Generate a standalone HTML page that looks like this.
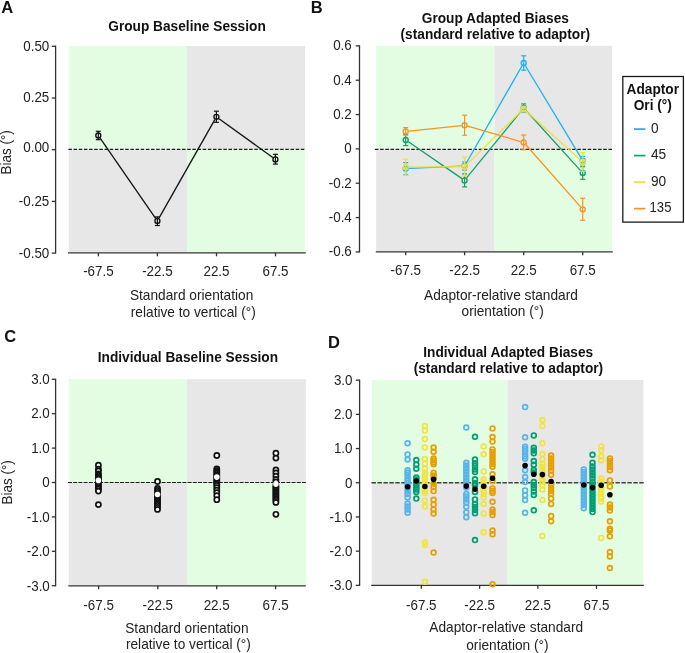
<!DOCTYPE html>
<html><head><meta charset="utf-8"><style>
html,body{margin:0;padding:0;background:#fff;}
svg{display:block;font-family:"Liberation Sans",sans-serif;}
svg{will-change:transform;}
</style></head><body>
<svg width="685" height="653" viewBox="0 0 685 653">
<rect x="0" y="0" width="685" height="653" fill="#fff"/>
<text transform="translate(1.3 12.7) scale(1 1)" text-anchor="start" font-size="16.5" font-weight="bold" fill="#111">A</text>
<text transform="translate(187 31.3) scale(1 1.11)" text-anchor="middle" font-size="13.7" font-weight="bold" fill="#111">Group Baseline Session</text>
<rect x="68.8" y="46.1" width="118.2" height="103.5" fill="#e3fde3"/>
<rect x="68.8" y="149.6" width="118.2" height="102.6" fill="#e7e7e7"/>
<rect x="187" y="46.1" width="118.1" height="103.5" fill="#e7e7e7"/>
<rect x="187" y="149.6" width="118.1" height="102.6" fill="#e3fde3"/>
<line x1="68.4" y1="149.45" x2="305.1" y2="149.45" stroke="#1e1e1e" stroke-width="1.2" stroke-dasharray="3.5 1.665"/>
<line x1="55.6" y1="45.6" x2="55.6" y2="253.6" stroke="#333333" stroke-width="1.3"/>
<line x1="51.8" y1="46.3" x2="55.6" y2="46.3" stroke="#333333" stroke-width="1.3"/>
<text transform="translate(49.3 50.7) scale(1 1.11)" text-anchor="end" font-size="13.4" fill="#222222">0.50</text>
<line x1="51.8" y1="98" x2="55.6" y2="98" stroke="#333333" stroke-width="1.3"/>
<text transform="translate(49.3 102.4) scale(1 1.11)" text-anchor="end" font-size="13.4" fill="#222222">0.25</text>
<line x1="51.8" y1="149.7" x2="55.6" y2="149.7" stroke="#333333" stroke-width="1.3"/>
<text transform="translate(49.3 152.4) scale(1 1.11)" text-anchor="end" font-size="13.4" fill="#222222">0.00</text>
<line x1="51.8" y1="201.4" x2="55.6" y2="201.4" stroke="#333333" stroke-width="1.3"/>
<text transform="translate(49.3 205.8) scale(1 1.11)" text-anchor="end" font-size="13.4" fill="#222222">-0.25</text>
<line x1="51.8" y1="253.1" x2="55.6" y2="253.1" stroke="#333333" stroke-width="1.3"/>
<text transform="translate(49.3 257.5) scale(1 1.11)" text-anchor="end" font-size="13.4" fill="#222222">-0.50</text>
<line x1="68" y1="252.9" x2="305.8" y2="252.9" stroke="#333333" stroke-width="1.3"/>
<line x1="98.4" y1="252.9" x2="98.4" y2="256.3" stroke="#333333" stroke-width="1.3"/>
<text transform="translate(98.4 275.5) scale(1 1.11)" text-anchor="middle" font-size="13.4" fill="#222222">-67.5</text>
<line x1="157.4" y1="252.9" x2="157.4" y2="256.3" stroke="#333333" stroke-width="1.3"/>
<text transform="translate(157.4 275.5) scale(1 1.11)" text-anchor="middle" font-size="13.4" fill="#222222">-22.5</text>
<line x1="216.5" y1="252.9" x2="216.5" y2="256.3" stroke="#333333" stroke-width="1.3"/>
<text transform="translate(216.5 275.5) scale(1 1.11)" text-anchor="middle" font-size="13.4" fill="#222222">22.5</text>
<line x1="275.5" y1="252.9" x2="275.5" y2="256.3" stroke="#333333" stroke-width="1.3"/>
<text transform="translate(275.5 275.5) scale(1 1.11)" text-anchor="middle" font-size="13.4" fill="#222222">67.5</text>
<text transform="translate(191.6 299.7) scale(1 1.11)" text-anchor="middle" font-size="13.7" fill="#222222">Standard orientation</text>
<text transform="translate(193.3 317.1) scale(1 1.11)" text-anchor="middle" font-size="13.7" fill="#222222">relative to vertical (°)</text>
<text text-anchor="middle" font-size="13.7" fill="#222222" transform="translate(11.2 152.4) rotate(-90) scale(0.985 1.11)">Bias (°)</text>
<line x1="100.12" y1="138.13" x2="155.58" y2="218.27" stroke="#111" stroke-width="1.3" stroke-linecap="butt"/>
<line x1="158.98" y1="218.12" x2="214.82" y2="119.58" stroke="#111" stroke-width="1.3" stroke-linecap="butt"/>
<line x1="218.99" y1="118.67" x2="272.81" y2="157.53" stroke="#111" stroke-width="1.3" stroke-linecap="butt"/>
<line x1="98.3" y1="131.3" x2="98.3" y2="139.7" stroke="#111" stroke-width="1.2"/>
<line x1="95.8" y1="131.3" x2="100.8" y2="131.3" stroke="#111" stroke-width="1.2"/>
<line x1="95.8" y1="139.7" x2="100.8" y2="139.7" stroke="#111" stroke-width="1.2"/>
<circle cx="98.3" cy="135.5" r="2.5" fill="none" stroke="#111" stroke-width="1.35"/>
<line x1="157.4" y1="216.9" x2="157.4" y2="225.5" stroke="#111" stroke-width="1.2"/>
<line x1="154.9" y1="216.9" x2="159.9" y2="216.9" stroke="#111" stroke-width="1.2"/>
<line x1="154.9" y1="225.5" x2="159.9" y2="225.5" stroke="#111" stroke-width="1.2"/>
<circle cx="157.4" cy="220.9" r="2.5" fill="none" stroke="#111" stroke-width="1.35"/>
<line x1="216.4" y1="111.2" x2="216.4" y2="122.3" stroke="#111" stroke-width="1.2"/>
<line x1="213.9" y1="111.2" x2="218.9" y2="111.2" stroke="#111" stroke-width="1.2"/>
<line x1="213.9" y1="122.3" x2="218.9" y2="122.3" stroke="#111" stroke-width="1.2"/>
<circle cx="216.4" cy="116.8" r="2.5" fill="none" stroke="#111" stroke-width="1.35"/>
<line x1="275.4" y1="154.3" x2="275.4" y2="164.1" stroke="#111" stroke-width="1.2"/>
<line x1="272.9" y1="154.3" x2="277.9" y2="154.3" stroke="#111" stroke-width="1.2"/>
<line x1="272.9" y1="164.1" x2="277.9" y2="164.1" stroke="#111" stroke-width="1.2"/>
<circle cx="275.4" cy="159.4" r="2.5" fill="none" stroke="#111" stroke-width="1.35"/>
<text transform="translate(310.7 12.7) scale(1 1)" text-anchor="start" font-size="16.5" font-weight="bold" fill="#111">B</text>
<text transform="translate(495.3 23.4) scale(1 1.11)" text-anchor="middle" font-size="13.7" font-weight="bold" fill="#111">Group Adapted Biases</text>
<text transform="translate(495.3 38.7) scale(1 1.11)" text-anchor="middle" font-size="13.7" font-weight="bold" fill="#111">(standard relative to adaptor)</text>
<rect x="376.2" y="45.8" width="118.3" height="103.1" fill="#e3fde3"/>
<rect x="376.2" y="148.9" width="118.3" height="102.3" fill="#e7e7e7"/>
<rect x="494.5" y="45.8" width="117.6" height="103.1" fill="#e7e7e7"/>
<rect x="494.5" y="148.9" width="117.6" height="102.3" fill="#e3fde3"/>
<line x1="374.9" y1="149.4" x2="612.1" y2="149.4" stroke="#1e1e1e" stroke-width="1.2" stroke-dasharray="3.55 1.64"/>
<line x1="359.5" y1="45.3" x2="359.5" y2="252.5" stroke="#333333" stroke-width="1.3"/>
<line x1="355.7" y1="45.88" x2="359.5" y2="45.88" stroke="#333333" stroke-width="1.3"/>
<text transform="translate(351.8 50.28) scale(1 1.11)" text-anchor="end" font-size="13.4" fill="#222222">0.6</text>
<line x1="355.7" y1="80.22" x2="359.5" y2="80.22" stroke="#333333" stroke-width="1.3"/>
<text transform="translate(351.8 84.62) scale(1 1.11)" text-anchor="end" font-size="13.4" fill="#222222">0.4</text>
<line x1="355.7" y1="114.56" x2="359.5" y2="114.56" stroke="#333333" stroke-width="1.3"/>
<text transform="translate(351.8 118.96) scale(1 1.11)" text-anchor="end" font-size="13.4" fill="#222222">0.2</text>
<line x1="355.7" y1="148.9" x2="359.5" y2="148.9" stroke="#333333" stroke-width="1.3"/>
<text transform="translate(351.8 153.3) scale(1 1.11)" text-anchor="end" font-size="13.4" fill="#222222">0</text>
<line x1="355.7" y1="183.24" x2="359.5" y2="183.24" stroke="#333333" stroke-width="1.3"/>
<text transform="translate(351.8 187.64) scale(1 1.11)" text-anchor="end" font-size="13.4" fill="#222222">-0.2</text>
<line x1="355.7" y1="217.58" x2="359.5" y2="217.58" stroke="#333333" stroke-width="1.3"/>
<text transform="translate(351.8 221.98) scale(1 1.11)" text-anchor="end" font-size="13.4" fill="#222222">-0.4</text>
<line x1="355.7" y1="251.92" x2="359.5" y2="251.92" stroke="#333333" stroke-width="1.3"/>
<text transform="translate(351.8 256.32) scale(1 1.11)" text-anchor="end" font-size="13.4" fill="#222222">-0.6</text>
<line x1="375.8" y1="251.9" x2="612.8" y2="251.9" stroke="#333333" stroke-width="1.3"/>
<line x1="405.7" y1="251.9" x2="405.7" y2="255.3" stroke="#333333" stroke-width="1.3"/>
<text transform="translate(405.7 274.8) scale(1 1.11)" text-anchor="middle" font-size="13.4" fill="#222222">-67.5</text>
<line x1="464.6" y1="251.9" x2="464.6" y2="255.3" stroke="#333333" stroke-width="1.3"/>
<text transform="translate(464.6 274.8) scale(1 1.11)" text-anchor="middle" font-size="13.4" fill="#222222">-22.5</text>
<line x1="523.7" y1="251.9" x2="523.7" y2="255.3" stroke="#333333" stroke-width="1.3"/>
<text transform="translate(523.7 274.8) scale(1 1.11)" text-anchor="middle" font-size="13.4" fill="#222222">22.5</text>
<line x1="582.7" y1="251.9" x2="582.7" y2="255.3" stroke="#333333" stroke-width="1.3"/>
<text transform="translate(582.7 274.8) scale(1 1.11)" text-anchor="middle" font-size="13.4" fill="#222222">67.5</text>
<text transform="translate(501 299.8) scale(1 1.11)" text-anchor="middle" font-size="13.7" fill="#222222">Adaptor-relative standard</text>
<text transform="translate(502.7 315.8) scale(1 1.11)" text-anchor="middle" font-size="13.7" fill="#222222">orientation (°)</text>
<line x1="408.9" y1="168.46" x2="461.4" y2="166.14" stroke="#1db1ec" stroke-width="1.3" stroke-linecap="butt"/>
<line x1="466.19" y1="163.22" x2="522.11" y2="65.78" stroke="#1db1ec" stroke-width="1.3" stroke-linecap="butt"/>
<line x1="525.35" y1="65.74" x2="581.05" y2="157.96" stroke="#1db1ec" stroke-width="1.3" stroke-linecap="butt"/>
<line x1="405.7" y1="162.6" x2="405.7" y2="174.6" stroke="#1db1ec" stroke-width="1.2"/>
<line x1="403.2" y1="162.6" x2="408.2" y2="162.6" stroke="#1db1ec" stroke-width="1.2"/>
<line x1="403.2" y1="174.6" x2="408.2" y2="174.6" stroke="#1db1ec" stroke-width="1.2"/>
<circle cx="405.7" cy="168.6" r="2.5" fill="none" stroke="#1db1ec" stroke-width="1.35"/>
<line x1="464.6" y1="162" x2="464.6" y2="170" stroke="#1db1ec" stroke-width="1.2"/>
<line x1="462.1" y1="162" x2="467.1" y2="162" stroke="#1db1ec" stroke-width="1.2"/>
<line x1="462.1" y1="170" x2="467.1" y2="170" stroke="#1db1ec" stroke-width="1.2"/>
<circle cx="464.6" cy="166" r="2.5" fill="none" stroke="#1db1ec" stroke-width="1.35"/>
<line x1="523.7" y1="55.8" x2="523.7" y2="70.2" stroke="#1db1ec" stroke-width="1.2"/>
<line x1="521.2" y1="55.8" x2="526.2" y2="55.8" stroke="#1db1ec" stroke-width="1.2"/>
<line x1="521.2" y1="70.2" x2="526.2" y2="70.2" stroke="#1db1ec" stroke-width="1.2"/>
<circle cx="523.7" cy="63" r="2.5" fill="none" stroke="#1db1ec" stroke-width="1.35"/>
<line x1="582.7" y1="156.5" x2="582.7" y2="164.9" stroke="#1db1ec" stroke-width="1.2"/>
<line x1="580.2" y1="156.5" x2="585.2" y2="156.5" stroke="#1db1ec" stroke-width="1.2"/>
<line x1="580.2" y1="164.9" x2="585.2" y2="164.9" stroke="#1db1ec" stroke-width="1.2"/>
<circle cx="582.7" cy="160.7" r="2.5" fill="none" stroke="#1db1ec" stroke-width="1.35"/>
<line x1="408.34" y1="141.81" x2="461.96" y2="178.59" stroke="#189e6c" stroke-width="1.3" stroke-linecap="butt"/>
<line x1="466.62" y1="177.92" x2="521.68" y2="110.38" stroke="#189e6c" stroke-width="1.3" stroke-linecap="butt"/>
<line x1="525.85" y1="110.27" x2="580.55" y2="170.63" stroke="#189e6c" stroke-width="1.3" stroke-linecap="butt"/>
<line x1="405.7" y1="134.4" x2="405.7" y2="145.6" stroke="#189e6c" stroke-width="1.2"/>
<line x1="403.2" y1="134.4" x2="408.2" y2="134.4" stroke="#189e6c" stroke-width="1.2"/>
<line x1="403.2" y1="145.6" x2="408.2" y2="145.6" stroke="#189e6c" stroke-width="1.2"/>
<circle cx="405.7" cy="140" r="2.5" fill="none" stroke="#189e6c" stroke-width="1.35"/>
<line x1="464.6" y1="173.9" x2="464.6" y2="186.9" stroke="#189e6c" stroke-width="1.2"/>
<line x1="462.1" y1="173.9" x2="467.1" y2="173.9" stroke="#189e6c" stroke-width="1.2"/>
<line x1="462.1" y1="186.9" x2="467.1" y2="186.9" stroke="#189e6c" stroke-width="1.2"/>
<circle cx="464.6" cy="180.4" r="2.5" fill="none" stroke="#189e6c" stroke-width="1.35"/>
<line x1="523.7" y1="103.9" x2="523.7" y2="111.9" stroke="#189e6c" stroke-width="1.2"/>
<line x1="521.2" y1="103.9" x2="526.2" y2="103.9" stroke="#189e6c" stroke-width="1.2"/>
<line x1="521.2" y1="111.9" x2="526.2" y2="111.9" stroke="#189e6c" stroke-width="1.2"/>
<circle cx="523.7" cy="107.9" r="2.5" fill="none" stroke="#189e6c" stroke-width="1.35"/>
<line x1="582.7" y1="166.7" x2="582.7" y2="179.3" stroke="#189e6c" stroke-width="1.2"/>
<line x1="580.2" y1="166.7" x2="585.2" y2="166.7" stroke="#189e6c" stroke-width="1.2"/>
<line x1="580.2" y1="179.3" x2="585.2" y2="179.3" stroke="#189e6c" stroke-width="1.2"/>
<circle cx="582.7" cy="173" r="2.5" fill="none" stroke="#189e6c" stroke-width="1.35"/>
<line x1="408.9" y1="167.17" x2="461.4" y2="166.63" stroke="#ece03a" stroke-width="1.3" stroke-linecap="butt"/>
<line x1="466.89" y1="164.36" x2="521.41" y2="111.04" stroke="#ece03a" stroke-width="1.3" stroke-linecap="butt"/>
<line x1="526.08" y1="110.94" x2="580.32" y2="159.86" stroke="#ece03a" stroke-width="1.3" stroke-linecap="butt"/>
<line x1="405.7" y1="159.2" x2="405.7" y2="175.2" stroke="#ece03a" stroke-width="1.2"/>
<line x1="403.2" y1="159.2" x2="408.2" y2="159.2" stroke="#ece03a" stroke-width="1.2"/>
<line x1="403.2" y1="175.2" x2="408.2" y2="175.2" stroke="#ece03a" stroke-width="1.2"/>
<circle cx="405.7" cy="167.2" r="2.5" fill="none" stroke="#ece03a" stroke-width="1.35"/>
<line x1="464.6" y1="157.1" x2="464.6" y2="176.1" stroke="#ece03a" stroke-width="1.2"/>
<line x1="462.1" y1="157.1" x2="467.1" y2="157.1" stroke="#ece03a" stroke-width="1.2"/>
<line x1="462.1" y1="176.1" x2="467.1" y2="176.1" stroke="#ece03a" stroke-width="1.2"/>
<circle cx="464.6" cy="166.6" r="2.5" fill="none" stroke="#ece03a" stroke-width="1.35"/>
<line x1="523.7" y1="106.3" x2="523.7" y2="111.3" stroke="#ece03a" stroke-width="1.2"/>
<line x1="521.2" y1="106.3" x2="526.2" y2="106.3" stroke="#ece03a" stroke-width="1.2"/>
<line x1="521.2" y1="111.3" x2="526.2" y2="111.3" stroke="#ece03a" stroke-width="1.2"/>
<circle cx="523.7" cy="108.8" r="2.5" fill="none" stroke="#ece03a" stroke-width="1.35"/>
<line x1="582.7" y1="152.7" x2="582.7" y2="171.3" stroke="#ece03a" stroke-width="1.2"/>
<line x1="580.2" y1="152.7" x2="585.2" y2="152.7" stroke="#ece03a" stroke-width="1.2"/>
<line x1="580.2" y1="171.3" x2="585.2" y2="171.3" stroke="#ece03a" stroke-width="1.2"/>
<circle cx="582.7" cy="162" r="2.5" fill="none" stroke="#ece03a" stroke-width="1.35"/>
<line x1="408.88" y1="131.07" x2="461.42" y2="125.53" stroke="#f7941d" stroke-width="1.3" stroke-linecap="butt"/>
<line x1="467.67" y1="126.09" x2="520.63" y2="141.51" stroke="#f7941d" stroke-width="1.3" stroke-linecap="butt"/>
<line x1="525.82" y1="144.8" x2="580.58" y2="206.9" stroke="#f7941d" stroke-width="1.3" stroke-linecap="butt"/>
<line x1="405.7" y1="127.6" x2="405.7" y2="135.2" stroke="#f7941d" stroke-width="1.2"/>
<line x1="403.2" y1="127.6" x2="408.2" y2="127.6" stroke="#f7941d" stroke-width="1.2"/>
<line x1="403.2" y1="135.2" x2="408.2" y2="135.2" stroke="#f7941d" stroke-width="1.2"/>
<circle cx="405.7" cy="131.4" r="2.5" fill="none" stroke="#f7941d" stroke-width="1.35"/>
<line x1="464.6" y1="115.2" x2="464.6" y2="135.2" stroke="#f7941d" stroke-width="1.2"/>
<line x1="462.1" y1="115.2" x2="467.1" y2="115.2" stroke="#f7941d" stroke-width="1.2"/>
<line x1="462.1" y1="135.2" x2="467.1" y2="135.2" stroke="#f7941d" stroke-width="1.2"/>
<circle cx="464.6" cy="125.2" r="2.5" fill="none" stroke="#f7941d" stroke-width="1.35"/>
<line x1="523.7" y1="135" x2="523.7" y2="149.8" stroke="#f7941d" stroke-width="1.2"/>
<line x1="521.2" y1="135" x2="526.2" y2="135" stroke="#f7941d" stroke-width="1.2"/>
<line x1="521.2" y1="149.8" x2="526.2" y2="149.8" stroke="#f7941d" stroke-width="1.2"/>
<circle cx="523.7" cy="142.4" r="2.5" fill="none" stroke="#f7941d" stroke-width="1.35"/>
<line x1="582.7" y1="198.3" x2="582.7" y2="220.3" stroke="#f7941d" stroke-width="1.2"/>
<line x1="580.2" y1="198.3" x2="585.2" y2="198.3" stroke="#f7941d" stroke-width="1.2"/>
<line x1="580.2" y1="220.3" x2="585.2" y2="220.3" stroke="#f7941d" stroke-width="1.2"/>
<circle cx="582.7" cy="209.3" r="2.5" fill="none" stroke="#f7941d" stroke-width="1.35"/>
<rect x="622.8" y="76.5" width="60.6" height="145.6" fill="#fff" stroke="#1a1a1a" stroke-width="1.3"/>
<text transform="translate(652.8 93.5) scale(1 1.11)" text-anchor="middle" font-size="13.7" font-weight="bold" fill="#111">Adaptor</text>
<text transform="translate(652.8 109.5) scale(1 1.11)" text-anchor="middle" font-size="13.7" font-weight="bold" fill="#111">Ori (°)</text>
<line x1="634" y1="129.1" x2="645.4" y2="129.1" stroke="#1db1ec" stroke-width="1.7"/>
<text transform="translate(650.9 132.7) scale(1 1.11)" text-anchor="start" font-size="13.7" fill="#222222">0</text>
<line x1="634" y1="155.6" x2="645.4" y2="155.6" stroke="#189e6c" stroke-width="1.7"/>
<text transform="translate(650.9 159.2) scale(1 1.11)" text-anchor="start" font-size="13.7" fill="#222222">45</text>
<line x1="634" y1="182.1" x2="645.4" y2="182.1" stroke="#ece03a" stroke-width="1.7"/>
<text transform="translate(650.9 185.7) scale(1 1.11)" text-anchor="start" font-size="13.7" fill="#222222">90</text>
<line x1="634" y1="208.6" x2="645.4" y2="208.6" stroke="#f7941d" stroke-width="1.7"/>
<text transform="translate(649.6 212.2) scale(0.955 1.11)" text-anchor="start" font-size="13.7" fill="#222222">135</text>
<text transform="translate(4.2 342.2) scale(1 1)" text-anchor="start" font-size="16.5" font-weight="bold" fill="#111">C</text>
<text transform="translate(187.9 361.5) scale(1 1.11)" text-anchor="middle" font-size="13.7" font-weight="bold" fill="#111">Individual Baseline Session</text>
<rect x="68.8" y="379.2" width="118.2" height="103.3" fill="#e3fde3"/>
<rect x="68.8" y="482.5" width="118.2" height="102.5" fill="#e7e7e7"/>
<rect x="187" y="379.2" width="118.8" height="103.3" fill="#e7e7e7"/>
<rect x="187" y="482.5" width="118.8" height="102.5" fill="#e3fde3"/>
<line x1="68" y1="482.5" x2="305.8" y2="482.5" stroke="#1e1e1e" stroke-width="1.2" stroke-dasharray="4.0 1.2"/>
<line x1="55.6" y1="378.7" x2="55.6" y2="586.3" stroke="#333333" stroke-width="1.3"/>
<line x1="51.8" y1="379.3" x2="55.6" y2="379.3" stroke="#333333" stroke-width="1.3"/>
<text transform="translate(49.8 383.7) scale(1 1.11)" text-anchor="end" font-size="13.4" fill="#222222">3.0</text>
<line x1="51.8" y1="413.7" x2="55.6" y2="413.7" stroke="#333333" stroke-width="1.3"/>
<text transform="translate(49.8 418.1) scale(1 1.11)" text-anchor="end" font-size="13.4" fill="#222222">2.0</text>
<line x1="51.8" y1="448.1" x2="55.6" y2="448.1" stroke="#333333" stroke-width="1.3"/>
<text transform="translate(49.8 452.5) scale(1 1.11)" text-anchor="end" font-size="13.4" fill="#222222">1.0</text>
<line x1="51.8" y1="482.5" x2="55.6" y2="482.5" stroke="#333333" stroke-width="1.3"/>
<text transform="translate(49.8 486.9) scale(1 1.11)" text-anchor="end" font-size="13.4" fill="#222222">0</text>
<line x1="51.8" y1="516.9" x2="55.6" y2="516.9" stroke="#333333" stroke-width="1.3"/>
<text transform="translate(49.8 522) scale(1 1.11)" text-anchor="end" font-size="13.4" fill="#222222">-1.0</text>
<line x1="51.8" y1="551.3" x2="55.6" y2="551.3" stroke="#333333" stroke-width="1.3"/>
<text transform="translate(49.8 556.4) scale(1 1.11)" text-anchor="end" font-size="13.4" fill="#222222">-2.0</text>
<line x1="51.8" y1="585.7" x2="55.6" y2="585.7" stroke="#333333" stroke-width="1.3"/>
<text transform="translate(49.8 591) scale(1 1.11)" text-anchor="end" font-size="13.4" fill="#222222">-3.0</text>
<line x1="68.3" y1="585.8" x2="305.8" y2="585.8" stroke="#333333" stroke-width="1.3"/>
<line x1="98.6" y1="585.8" x2="98.6" y2="589.2" stroke="#333333" stroke-width="1.3"/>
<text transform="translate(98.6 610.2) scale(1 1.11)" text-anchor="middle" font-size="13.4" fill="#222222">-67.5</text>
<line x1="157.8" y1="585.8" x2="157.8" y2="589.2" stroke="#333333" stroke-width="1.3"/>
<text transform="translate(157.8 610.2) scale(1 1.11)" text-anchor="middle" font-size="13.4" fill="#222222">-22.5</text>
<line x1="216.7" y1="585.8" x2="216.7" y2="589.2" stroke="#333333" stroke-width="1.3"/>
<text transform="translate(216.7 610.2) scale(1 1.11)" text-anchor="middle" font-size="13.4" fill="#222222">22.5</text>
<line x1="275.6" y1="585.8" x2="275.6" y2="589.2" stroke="#333333" stroke-width="1.3"/>
<text transform="translate(275.6 610.2) scale(1 1.11)" text-anchor="middle" font-size="13.4" fill="#222222">67.5</text>
<text transform="translate(186.9 633.1) scale(1 1.11)" text-anchor="middle" font-size="13.7" fill="#222222">Standard orientation</text>
<text transform="translate(188.4 649) scale(1 1.11)" text-anchor="middle" font-size="13.7" fill="#222222">relative to vertical (°)</text>
<text text-anchor="middle" font-size="13.7" fill="#222222" transform="translate(11.6 482.4) rotate(-90) scale(0.985 1.11)">Bias (°)</text>
<circle cx="98.4" cy="465.2" r="2.55" fill="#fff" stroke="#111" stroke-width="1.7"/>
<circle cx="98.4" cy="469.2" r="2.55" fill="#fff" stroke="#111" stroke-width="1.7"/>
<circle cx="98.4" cy="471" r="2.55" fill="#fff" stroke="#111" stroke-width="1.7"/>
<circle cx="98.4" cy="474" r="2.55" fill="#fff" stroke="#111" stroke-width="1.7"/>
<circle cx="98.4" cy="475.5" r="2.55" fill="#fff" stroke="#111" stroke-width="1.7"/>
<circle cx="98.4" cy="477" r="2.55" fill="#fff" stroke="#111" stroke-width="1.7"/>
<circle cx="98.4" cy="478.5" r="2.55" fill="#fff" stroke="#111" stroke-width="1.7"/>
<circle cx="98.4" cy="480" r="2.55" fill="#fff" stroke="#111" stroke-width="1.7"/>
<circle cx="98.4" cy="481.5" r="2.55" fill="#fff" stroke="#111" stroke-width="1.7"/>
<circle cx="98.4" cy="483" r="2.55" fill="#fff" stroke="#111" stroke-width="1.7"/>
<circle cx="98.4" cy="484.5" r="2.55" fill="#fff" stroke="#111" stroke-width="1.7"/>
<circle cx="98.4" cy="486.2" r="2.55" fill="#fff" stroke="#111" stroke-width="1.7"/>
<circle cx="98.4" cy="487.7" r="2.55" fill="#fff" stroke="#111" stroke-width="1.7"/>
<circle cx="98.4" cy="489.2" r="2.55" fill="#fff" stroke="#111" stroke-width="1.7"/>
<circle cx="98.4" cy="491.1" r="2.55" fill="#fff" stroke="#111" stroke-width="1.7"/>
<circle cx="98.4" cy="504.6" r="2.55" fill="#fff" stroke="#111" stroke-width="1.7"/>
<circle cx="157.5" cy="481.5" r="2.55" fill="#fff" stroke="#111" stroke-width="1.7"/>
<circle cx="157.5" cy="488.5" r="2.55" fill="#fff" stroke="#111" stroke-width="1.7"/>
<circle cx="157.5" cy="490.5" r="2.55" fill="#fff" stroke="#111" stroke-width="1.7"/>
<circle cx="157.5" cy="492.5" r="2.55" fill="#fff" stroke="#111" stroke-width="1.7"/>
<circle cx="157.5" cy="494.5" r="2.55" fill="#fff" stroke="#111" stroke-width="1.7"/>
<circle cx="157.5" cy="496.5" r="2.55" fill="#fff" stroke="#111" stroke-width="1.7"/>
<circle cx="157.5" cy="498" r="2.55" fill="#fff" stroke="#111" stroke-width="1.7"/>
<circle cx="157.5" cy="499.5" r="2.55" fill="#fff" stroke="#111" stroke-width="1.7"/>
<circle cx="157.5" cy="501" r="2.55" fill="#fff" stroke="#111" stroke-width="1.7"/>
<circle cx="157.5" cy="502.5" r="2.55" fill="#fff" stroke="#111" stroke-width="1.7"/>
<circle cx="157.5" cy="504" r="2.55" fill="#fff" stroke="#111" stroke-width="1.7"/>
<circle cx="157.5" cy="505.5" r="2.55" fill="#fff" stroke="#111" stroke-width="1.7"/>
<circle cx="157.5" cy="507.5" r="2.55" fill="#fff" stroke="#111" stroke-width="1.7"/>
<circle cx="157.5" cy="509.4" r="2.55" fill="#fff" stroke="#111" stroke-width="1.7"/>
<circle cx="216.8" cy="455.5" r="2.55" fill="#fff" stroke="#111" stroke-width="1.7"/>
<circle cx="216.8" cy="468.8" r="2.55" fill="#fff" stroke="#111" stroke-width="1.7"/>
<circle cx="216.8" cy="470.5" r="2.55" fill="#fff" stroke="#111" stroke-width="1.7"/>
<circle cx="216.8" cy="472" r="2.55" fill="#fff" stroke="#111" stroke-width="1.7"/>
<circle cx="216.8" cy="473.5" r="2.55" fill="#fff" stroke="#111" stroke-width="1.7"/>
<circle cx="216.8" cy="475" r="2.55" fill="#fff" stroke="#111" stroke-width="1.7"/>
<circle cx="216.8" cy="476.5" r="2.55" fill="#fff" stroke="#111" stroke-width="1.7"/>
<circle cx="216.8" cy="478" r="2.55" fill="#fff" stroke="#111" stroke-width="1.7"/>
<circle cx="216.8" cy="479.5" r="2.55" fill="#fff" stroke="#111" stroke-width="1.7"/>
<circle cx="216.8" cy="481" r="2.55" fill="#fff" stroke="#111" stroke-width="1.7"/>
<circle cx="216.8" cy="482.5" r="2.55" fill="#fff" stroke="#111" stroke-width="1.7"/>
<circle cx="216.8" cy="484" r="2.55" fill="#fff" stroke="#111" stroke-width="1.7"/>
<circle cx="216.8" cy="485.5" r="2.55" fill="#fff" stroke="#111" stroke-width="1.7"/>
<circle cx="216.8" cy="487.7" r="2.55" fill="#fff" stroke="#111" stroke-width="1.7"/>
<circle cx="216.8" cy="490.2" r="2.55" fill="#fff" stroke="#111" stroke-width="1.7"/>
<circle cx="216.8" cy="492.6" r="2.55" fill="#fff" stroke="#111" stroke-width="1.7"/>
<circle cx="216.8" cy="495.7" r="2.55" fill="#fff" stroke="#111" stroke-width="1.7"/>
<circle cx="216.8" cy="499.7" r="2.55" fill="#fff" stroke="#111" stroke-width="1.7"/>
<circle cx="275.9" cy="453.2" r="2.55" fill="#fff" stroke="#111" stroke-width="1.7"/>
<circle cx="275.9" cy="458.1" r="2.55" fill="#fff" stroke="#111" stroke-width="1.7"/>
<circle cx="275.9" cy="470" r="2.55" fill="#fff" stroke="#111" stroke-width="1.7"/>
<circle cx="275.9" cy="473" r="2.55" fill="#fff" stroke="#111" stroke-width="1.7"/>
<circle cx="275.9" cy="476.1" r="2.55" fill="#fff" stroke="#111" stroke-width="1.7"/>
<circle cx="275.9" cy="479.4" r="2.55" fill="#fff" stroke="#111" stroke-width="1.7"/>
<circle cx="275.9" cy="482" r="2.55" fill="#fff" stroke="#111" stroke-width="1.7"/>
<circle cx="275.9" cy="485.5" r="2.55" fill="#fff" stroke="#111" stroke-width="1.7"/>
<circle cx="275.9" cy="487" r="2.55" fill="#fff" stroke="#111" stroke-width="1.7"/>
<circle cx="275.9" cy="488.5" r="2.55" fill="#fff" stroke="#111" stroke-width="1.7"/>
<circle cx="275.9" cy="490" r="2.55" fill="#fff" stroke="#111" stroke-width="1.7"/>
<circle cx="275.9" cy="491.5" r="2.55" fill="#fff" stroke="#111" stroke-width="1.7"/>
<circle cx="275.9" cy="493" r="2.55" fill="#fff" stroke="#111" stroke-width="1.7"/>
<circle cx="275.9" cy="494.5" r="2.55" fill="#fff" stroke="#111" stroke-width="1.7"/>
<circle cx="275.9" cy="496" r="2.55" fill="#fff" stroke="#111" stroke-width="1.7"/>
<circle cx="275.9" cy="497.5" r="2.55" fill="#fff" stroke="#111" stroke-width="1.7"/>
<circle cx="275.9" cy="499" r="2.55" fill="#fff" stroke="#111" stroke-width="1.7"/>
<circle cx="275.9" cy="500.5" r="2.55" fill="#fff" stroke="#111" stroke-width="1.7"/>
<circle cx="275.9" cy="502.4" r="2.55" fill="#fff" stroke="#111" stroke-width="1.7"/>
<circle cx="275.9" cy="514.3" r="2.55" fill="#fff" stroke="#111" stroke-width="1.7"/>
<circle cx="98.4" cy="480.4" r="2.8" fill="#fff"/>
<circle cx="157.5" cy="494.5" r="2.8" fill="#fff"/>
<circle cx="216.8" cy="477.1" r="2.8" fill="#fff"/>
<circle cx="275.9" cy="484.1" r="2.8" fill="#fff"/>
<text transform="translate(328.1 347.9) scale(1 1)" text-anchor="start" font-size="16.5" font-weight="bold" fill="#111">D</text>
<text transform="translate(508.2 357.1) scale(1 1.11)" text-anchor="middle" font-size="13.7" font-weight="bold" fill="#111">Individual Adapted Biases</text>
<text transform="translate(508.4 373) scale(1 1.11)" text-anchor="middle" font-size="13.7" font-weight="bold" fill="#111">(standard relative to adaptor)</text>
<rect x="371.8" y="379.9" width="135.7" height="102.7" fill="#e3fde3"/>
<rect x="371.8" y="482.6" width="135.7" height="102.2" fill="#e7e7e7"/>
<rect x="507.5" y="379.9" width="135.9" height="102.7" fill="#e7e7e7"/>
<rect x="507.5" y="482.6" width="135.9" height="102.2" fill="#e3fde3"/>
<line x1="371.5" y1="482.8" x2="643.7" y2="482.8" stroke="#3c443c" stroke-width="1.45" stroke-dasharray="4.45 1.5"/>
<line x1="359.6" y1="379.5" x2="359.6" y2="586" stroke="#333333" stroke-width="1.3"/>
<line x1="355.8" y1="380.15" x2="359.6" y2="380.15" stroke="#333333" stroke-width="1.3"/>
<text transform="translate(352.5 385.05) scale(1 1.11)" text-anchor="end" font-size="13.4" fill="#222222">3.0</text>
<line x1="355.8" y1="414.35" x2="359.6" y2="414.35" stroke="#333333" stroke-width="1.3"/>
<text transform="translate(352.5 419.25) scale(1 1.11)" text-anchor="end" font-size="13.4" fill="#222222">2.0</text>
<line x1="355.8" y1="448.55" x2="359.6" y2="448.55" stroke="#333333" stroke-width="1.3"/>
<text transform="translate(352.5 453.45) scale(1 1.11)" text-anchor="end" font-size="13.4" fill="#222222">1.0</text>
<line x1="355.8" y1="482.75" x2="359.6" y2="482.75" stroke="#333333" stroke-width="1.3"/>
<text transform="translate(352.5 487.65) scale(1 1.11)" text-anchor="end" font-size="13.4" fill="#222222">0</text>
<line x1="355.8" y1="516.95" x2="359.6" y2="516.95" stroke="#333333" stroke-width="1.3"/>
<text transform="translate(352.5 521.85) scale(1 1.11)" text-anchor="end" font-size="13.4" fill="#222222">-1.0</text>
<line x1="355.8" y1="551.15" x2="359.6" y2="551.15" stroke="#333333" stroke-width="1.3"/>
<text transform="translate(352.5 556.05) scale(1 1.11)" text-anchor="end" font-size="13.4" fill="#222222">-2.0</text>
<line x1="355.8" y1="585.35" x2="359.6" y2="585.35" stroke="#333333" stroke-width="1.3"/>
<text transform="translate(352.5 590.25) scale(1 1.11)" text-anchor="end" font-size="13.4" fill="#222222">-3.0</text>
<line x1="371.2" y1="585.4" x2="643.8" y2="585.4" stroke="#333333" stroke-width="1.3"/>
<line x1="421.3" y1="585.4" x2="421.3" y2="588.8" stroke="#333333" stroke-width="1.3"/>
<text transform="translate(421.3 609.8) scale(1 1.11)" text-anchor="middle" font-size="13.4" fill="#222222">-67.5</text>
<line x1="479.6" y1="585.4" x2="479.6" y2="588.8" stroke="#333333" stroke-width="1.3"/>
<text transform="translate(479.6 609.8) scale(1 1.11)" text-anchor="middle" font-size="13.4" fill="#222222">-22.5</text>
<line x1="537.8" y1="585.4" x2="537.8" y2="588.8" stroke="#333333" stroke-width="1.3"/>
<text transform="translate(537.8 609.8) scale(1 1.11)" text-anchor="middle" font-size="13.4" fill="#222222">22.5</text>
<line x1="596.5" y1="585.4" x2="596.5" y2="588.8" stroke="#333333" stroke-width="1.3"/>
<text transform="translate(596.5 609.8) scale(1 1.11)" text-anchor="middle" font-size="13.4" fill="#222222">67.5</text>
<text transform="translate(506.2 632.4) scale(1 1.11)" text-anchor="middle" font-size="13.7" fill="#222222">Adaptor-relative standard</text>
<text transform="translate(507.4 649.5) scale(1 1.11)" text-anchor="middle" font-size="13.7" fill="#222222">orientation (°)</text>
<circle cx="407.6" cy="443.2" r="2.4" fill="none" stroke="#56b4e9" stroke-width="1.7"/>
<circle cx="407.6" cy="454.4" r="2.4" fill="none" stroke="#56b4e9" stroke-width="1.7"/>
<circle cx="407.6" cy="459.5" r="2.4" fill="none" stroke="#56b4e9" stroke-width="1.7"/>
<circle cx="407.6" cy="470.3" r="2.4" fill="none" stroke="#56b4e9" stroke-width="1.7"/>
<circle cx="407.6" cy="472.5" r="2.4" fill="none" stroke="#56b4e9" stroke-width="1.7"/>
<circle cx="407.6" cy="475" r="2.4" fill="none" stroke="#56b4e9" stroke-width="1.7"/>
<circle cx="407.6" cy="478" r="2.4" fill="none" stroke="#56b4e9" stroke-width="1.7"/>
<circle cx="407.6" cy="480.5" r="2.4" fill="none" stroke="#56b4e9" stroke-width="1.7"/>
<circle cx="407.6" cy="483" r="2.4" fill="none" stroke="#56b4e9" stroke-width="1.7"/>
<circle cx="407.6" cy="485.5" r="2.4" fill="none" stroke="#56b4e9" stroke-width="1.7"/>
<circle cx="407.6" cy="488" r="2.4" fill="none" stroke="#56b4e9" stroke-width="1.7"/>
<circle cx="407.6" cy="491" r="2.4" fill="none" stroke="#56b4e9" stroke-width="1.7"/>
<circle cx="407.6" cy="494" r="2.4" fill="none" stroke="#56b4e9" stroke-width="1.7"/>
<circle cx="407.6" cy="497.5" r="2.4" fill="none" stroke="#56b4e9" stroke-width="1.7"/>
<circle cx="407.6" cy="503.5" r="2.4" fill="none" stroke="#56b4e9" stroke-width="1.7"/>
<circle cx="407.6" cy="506.5" r="2.4" fill="none" stroke="#56b4e9" stroke-width="1.7"/>
<circle cx="407.6" cy="509.5" r="2.4" fill="none" stroke="#56b4e9" stroke-width="1.7"/>
<circle cx="407.6" cy="512.7" r="2.4" fill="none" stroke="#56b4e9" stroke-width="1.7"/>
<circle cx="416.3" cy="460" r="2.4" fill="none" stroke="#009e73" stroke-width="1.7"/>
<circle cx="416.3" cy="464.5" r="2.4" fill="none" stroke="#009e73" stroke-width="1.7"/>
<circle cx="416.3" cy="468.7" r="2.4" fill="none" stroke="#009e73" stroke-width="1.7"/>
<circle cx="416.3" cy="477.4" r="2.4" fill="none" stroke="#009e73" stroke-width="1.7"/>
<circle cx="416.3" cy="479.5" r="2.4" fill="none" stroke="#009e73" stroke-width="1.7"/>
<circle cx="416.3" cy="481.5" r="2.4" fill="none" stroke="#009e73" stroke-width="1.7"/>
<circle cx="416.3" cy="483.5" r="2.4" fill="none" stroke="#009e73" stroke-width="1.7"/>
<circle cx="416.3" cy="485.5" r="2.4" fill="none" stroke="#009e73" stroke-width="1.7"/>
<circle cx="416.3" cy="487.5" r="2.4" fill="none" stroke="#009e73" stroke-width="1.7"/>
<circle cx="416.3" cy="489.5" r="2.4" fill="none" stroke="#009e73" stroke-width="1.7"/>
<circle cx="416.3" cy="492" r="2.4" fill="none" stroke="#009e73" stroke-width="1.7"/>
<circle cx="416.3" cy="498.6" r="2.4" fill="none" stroke="#009e73" stroke-width="1.7"/>
<circle cx="424.9" cy="426" r="2.4" fill="none" stroke="#f0e442" stroke-width="1.7"/>
<circle cx="424.9" cy="430.6" r="2.4" fill="none" stroke="#f0e442" stroke-width="1.7"/>
<circle cx="424.9" cy="439.1" r="2.4" fill="none" stroke="#f0e442" stroke-width="1.7"/>
<circle cx="424.9" cy="447.4" r="2.4" fill="none" stroke="#f0e442" stroke-width="1.7"/>
<circle cx="424.9" cy="459" r="2.4" fill="none" stroke="#f0e442" stroke-width="1.7"/>
<circle cx="424.9" cy="463.6" r="2.4" fill="none" stroke="#f0e442" stroke-width="1.7"/>
<circle cx="424.9" cy="468.7" r="2.4" fill="none" stroke="#f0e442" stroke-width="1.7"/>
<circle cx="424.9" cy="472.8" r="2.4" fill="none" stroke="#f0e442" stroke-width="1.7"/>
<circle cx="424.9" cy="475.1" r="2.4" fill="none" stroke="#f0e442" stroke-width="1.7"/>
<circle cx="424.9" cy="478.8" r="2.4" fill="none" stroke="#f0e442" stroke-width="1.7"/>
<circle cx="424.9" cy="481.5" r="2.4" fill="none" stroke="#f0e442" stroke-width="1.7"/>
<circle cx="424.9" cy="484" r="2.4" fill="none" stroke="#f0e442" stroke-width="1.7"/>
<circle cx="424.9" cy="486.5" r="2.4" fill="none" stroke="#f0e442" stroke-width="1.7"/>
<circle cx="424.9" cy="489" r="2.4" fill="none" stroke="#f0e442" stroke-width="1.7"/>
<circle cx="424.9" cy="491" r="2.4" fill="none" stroke="#f0e442" stroke-width="1.7"/>
<circle cx="424.9" cy="493" r="2.4" fill="none" stroke="#f0e442" stroke-width="1.7"/>
<circle cx="424.9" cy="500.8" r="2.4" fill="none" stroke="#f0e442" stroke-width="1.7"/>
<circle cx="424.9" cy="506.5" r="2.4" fill="none" stroke="#f0e442" stroke-width="1.7"/>
<circle cx="424.9" cy="542.4" r="2.4" fill="none" stroke="#f0e442" stroke-width="1.7"/>
<circle cx="424.9" cy="545" r="2.4" fill="none" stroke="#f0e442" stroke-width="1.7"/>
<circle cx="424.9" cy="581.8" r="2.4" fill="none" stroke="#f0e442" stroke-width="1.7"/>
<circle cx="433.6" cy="447.5" r="2.4" fill="none" stroke="#e69f00" stroke-width="1.7"/>
<circle cx="433.6" cy="451.7" r="2.4" fill="none" stroke="#e69f00" stroke-width="1.7"/>
<circle cx="433.6" cy="458.6" r="2.4" fill="none" stroke="#e69f00" stroke-width="1.7"/>
<circle cx="433.6" cy="460.5" r="2.4" fill="none" stroke="#e69f00" stroke-width="1.7"/>
<circle cx="433.6" cy="462.4" r="2.4" fill="none" stroke="#e69f00" stroke-width="1.7"/>
<circle cx="433.6" cy="464.3" r="2.4" fill="none" stroke="#e69f00" stroke-width="1.7"/>
<circle cx="433.6" cy="472.8" r="2.4" fill="none" stroke="#e69f00" stroke-width="1.7"/>
<circle cx="433.6" cy="475.5" r="2.4" fill="none" stroke="#e69f00" stroke-width="1.7"/>
<circle cx="433.6" cy="478" r="2.4" fill="none" stroke="#e69f00" stroke-width="1.7"/>
<circle cx="433.6" cy="483.8" r="2.4" fill="none" stroke="#e69f00" stroke-width="1.7"/>
<circle cx="433.6" cy="487" r="2.4" fill="none" stroke="#e69f00" stroke-width="1.7"/>
<circle cx="433.6" cy="491.1" r="2.4" fill="none" stroke="#e69f00" stroke-width="1.7"/>
<circle cx="433.6" cy="499.8" r="2.4" fill="none" stroke="#e69f00" stroke-width="1.7"/>
<circle cx="433.6" cy="504.4" r="2.4" fill="none" stroke="#e69f00" stroke-width="1.7"/>
<circle cx="433.6" cy="509.5" r="2.4" fill="none" stroke="#e69f00" stroke-width="1.7"/>
<circle cx="433.6" cy="513.6" r="2.4" fill="none" stroke="#e69f00" stroke-width="1.7"/>
<circle cx="433.6" cy="552.6" r="2.4" fill="none" stroke="#e69f00" stroke-width="1.7"/>
<circle cx="466.3" cy="427.5" r="2.4" fill="none" stroke="#56b4e9" stroke-width="1.7"/>
<circle cx="466.3" cy="462.7" r="2.4" fill="none" stroke="#56b4e9" stroke-width="1.7"/>
<circle cx="466.3" cy="465.5" r="2.4" fill="none" stroke="#56b4e9" stroke-width="1.7"/>
<circle cx="466.3" cy="468.5" r="2.4" fill="none" stroke="#56b4e9" stroke-width="1.7"/>
<circle cx="466.3" cy="471.5" r="2.4" fill="none" stroke="#56b4e9" stroke-width="1.7"/>
<circle cx="466.3" cy="474.5" r="2.4" fill="none" stroke="#56b4e9" stroke-width="1.7"/>
<circle cx="466.3" cy="477.5" r="2.4" fill="none" stroke="#56b4e9" stroke-width="1.7"/>
<circle cx="466.3" cy="480.5" r="2.4" fill="none" stroke="#56b4e9" stroke-width="1.7"/>
<circle cx="466.3" cy="483.5" r="2.4" fill="none" stroke="#56b4e9" stroke-width="1.7"/>
<circle cx="466.3" cy="487.4" r="2.4" fill="none" stroke="#56b4e9" stroke-width="1.7"/>
<circle cx="466.3" cy="493.9" r="2.4" fill="none" stroke="#56b4e9" stroke-width="1.7"/>
<circle cx="466.3" cy="496.5" r="2.4" fill="none" stroke="#56b4e9" stroke-width="1.7"/>
<circle cx="466.3" cy="499.5" r="2.4" fill="none" stroke="#56b4e9" stroke-width="1.7"/>
<circle cx="466.3" cy="502.5" r="2.4" fill="none" stroke="#56b4e9" stroke-width="1.7"/>
<circle cx="466.3" cy="506.7" r="2.4" fill="none" stroke="#56b4e9" stroke-width="1.7"/>
<circle cx="466.3" cy="512.2" r="2.4" fill="none" stroke="#56b4e9" stroke-width="1.7"/>
<circle cx="466.3" cy="517.3" r="2.4" fill="none" stroke="#56b4e9" stroke-width="1.7"/>
<circle cx="475" cy="436.8" r="2.4" fill="none" stroke="#009e73" stroke-width="1.7"/>
<circle cx="475" cy="459.5" r="2.4" fill="none" stroke="#009e73" stroke-width="1.7"/>
<circle cx="475" cy="463.2" r="2.4" fill="none" stroke="#009e73" stroke-width="1.7"/>
<circle cx="475" cy="465.9" r="2.4" fill="none" stroke="#009e73" stroke-width="1.7"/>
<circle cx="475" cy="469.6" r="2.4" fill="none" stroke="#009e73" stroke-width="1.7"/>
<circle cx="475" cy="472" r="2.4" fill="none" stroke="#009e73" stroke-width="1.7"/>
<circle cx="475" cy="479.2" r="2.4" fill="none" stroke="#009e73" stroke-width="1.7"/>
<circle cx="475" cy="482.9" r="2.4" fill="none" stroke="#009e73" stroke-width="1.7"/>
<circle cx="475" cy="485.2" r="2.4" fill="none" stroke="#009e73" stroke-width="1.7"/>
<circle cx="475" cy="492" r="2.4" fill="none" stroke="#009e73" stroke-width="1.7"/>
<circle cx="475" cy="499.4" r="2.4" fill="none" stroke="#009e73" stroke-width="1.7"/>
<circle cx="475" cy="504" r="2.4" fill="none" stroke="#009e73" stroke-width="1.7"/>
<circle cx="475" cy="507" r="2.4" fill="none" stroke="#009e73" stroke-width="1.7"/>
<circle cx="475" cy="510" r="2.4" fill="none" stroke="#009e73" stroke-width="1.7"/>
<circle cx="475" cy="513.2" r="2.4" fill="none" stroke="#009e73" stroke-width="1.7"/>
<circle cx="475" cy="540.1" r="2.4" fill="none" stroke="#009e73" stroke-width="1.7"/>
<circle cx="483.7" cy="446.6" r="2.4" fill="none" stroke="#f0e442" stroke-width="1.7"/>
<circle cx="483.7" cy="454.2" r="2.4" fill="none" stroke="#f0e442" stroke-width="1.7"/>
<circle cx="483.7" cy="471.4" r="2.4" fill="none" stroke="#f0e442" stroke-width="1.7"/>
<circle cx="483.7" cy="479.2" r="2.4" fill="none" stroke="#f0e442" stroke-width="1.7"/>
<circle cx="483.7" cy="482" r="2.4" fill="none" stroke="#f0e442" stroke-width="1.7"/>
<circle cx="483.7" cy="485" r="2.4" fill="none" stroke="#f0e442" stroke-width="1.7"/>
<circle cx="483.7" cy="488" r="2.4" fill="none" stroke="#f0e442" stroke-width="1.7"/>
<circle cx="483.7" cy="491" r="2.4" fill="none" stroke="#f0e442" stroke-width="1.7"/>
<circle cx="483.7" cy="494" r="2.4" fill="none" stroke="#f0e442" stroke-width="1.7"/>
<circle cx="483.7" cy="497.5" r="2.4" fill="none" stroke="#f0e442" stroke-width="1.7"/>
<circle cx="483.7" cy="504" r="2.4" fill="none" stroke="#f0e442" stroke-width="1.7"/>
<circle cx="483.7" cy="513.6" r="2.4" fill="none" stroke="#f0e442" stroke-width="1.7"/>
<circle cx="483.7" cy="532.3" r="2.4" fill="none" stroke="#f0e442" stroke-width="1.7"/>
<circle cx="492.5" cy="428.4" r="2.4" fill="none" stroke="#e69f00" stroke-width="1.7"/>
<circle cx="492.5" cy="437" r="2.4" fill="none" stroke="#e69f00" stroke-width="1.7"/>
<circle cx="492.5" cy="441.6" r="2.4" fill="none" stroke="#e69f00" stroke-width="1.7"/>
<circle cx="492.5" cy="449.4" r="2.4" fill="none" stroke="#e69f00" stroke-width="1.7"/>
<circle cx="492.5" cy="452" r="2.4" fill="none" stroke="#e69f00" stroke-width="1.7"/>
<circle cx="492.5" cy="455" r="2.4" fill="none" stroke="#e69f00" stroke-width="1.7"/>
<circle cx="492.5" cy="458" r="2.4" fill="none" stroke="#e69f00" stroke-width="1.7"/>
<circle cx="492.5" cy="461" r="2.4" fill="none" stroke="#e69f00" stroke-width="1.7"/>
<circle cx="492.5" cy="464" r="2.4" fill="none" stroke="#e69f00" stroke-width="1.7"/>
<circle cx="492.5" cy="466.8" r="2.4" fill="none" stroke="#e69f00" stroke-width="1.7"/>
<circle cx="492.5" cy="474.2" r="2.4" fill="none" stroke="#e69f00" stroke-width="1.7"/>
<circle cx="492.5" cy="481" r="2.4" fill="none" stroke="#e69f00" stroke-width="1.7"/>
<circle cx="492.5" cy="488.4" r="2.4" fill="none" stroke="#e69f00" stroke-width="1.7"/>
<circle cx="492.5" cy="491" r="2.4" fill="none" stroke="#e69f00" stroke-width="1.7"/>
<circle cx="492.5" cy="493" r="2.4" fill="none" stroke="#e69f00" stroke-width="1.7"/>
<circle cx="492.5" cy="501.7" r="2.4" fill="none" stroke="#e69f00" stroke-width="1.7"/>
<circle cx="492.5" cy="509.5" r="2.4" fill="none" stroke="#e69f00" stroke-width="1.7"/>
<circle cx="492.5" cy="512" r="2.4" fill="none" stroke="#e69f00" stroke-width="1.7"/>
<circle cx="492.5" cy="515" r="2.4" fill="none" stroke="#e69f00" stroke-width="1.7"/>
<circle cx="492.5" cy="530.5" r="2.4" fill="none" stroke="#e69f00" stroke-width="1.7"/>
<circle cx="492.5" cy="534.2" r="2.4" fill="none" stroke="#e69f00" stroke-width="1.7"/>
<circle cx="492.5" cy="584.2" r="2.4" fill="none" stroke="#e69f00" stroke-width="1.7"/>
<circle cx="525.1" cy="407.1" r="2.4" fill="none" stroke="#56b4e9" stroke-width="1.7"/>
<circle cx="525.1" cy="437.2" r="2.4" fill="none" stroke="#56b4e9" stroke-width="1.7"/>
<circle cx="525.1" cy="446.8" r="2.4" fill="none" stroke="#56b4e9" stroke-width="1.7"/>
<circle cx="525.1" cy="449" r="2.4" fill="none" stroke="#56b4e9" stroke-width="1.7"/>
<circle cx="525.1" cy="451.5" r="2.4" fill="none" stroke="#56b4e9" stroke-width="1.7"/>
<circle cx="525.1" cy="454" r="2.4" fill="none" stroke="#56b4e9" stroke-width="1.7"/>
<circle cx="525.1" cy="456.5" r="2.4" fill="none" stroke="#56b4e9" stroke-width="1.7"/>
<circle cx="525.1" cy="458.7" r="2.4" fill="none" stroke="#56b4e9" stroke-width="1.7"/>
<circle cx="525.1" cy="470.2" r="2.4" fill="none" stroke="#56b4e9" stroke-width="1.7"/>
<circle cx="525.1" cy="477.1" r="2.4" fill="none" stroke="#56b4e9" stroke-width="1.7"/>
<circle cx="525.1" cy="482.1" r="2.4" fill="none" stroke="#56b4e9" stroke-width="1.7"/>
<circle cx="525.1" cy="490.4" r="2.4" fill="none" stroke="#56b4e9" stroke-width="1.7"/>
<circle cx="525.1" cy="495.2" r="2.4" fill="none" stroke="#56b4e9" stroke-width="1.7"/>
<circle cx="525.1" cy="500.1" r="2.4" fill="none" stroke="#56b4e9" stroke-width="1.7"/>
<circle cx="525.1" cy="512.8" r="2.4" fill="none" stroke="#56b4e9" stroke-width="1.7"/>
<circle cx="533.8" cy="435.4" r="2.4" fill="none" stroke="#009e73" stroke-width="1.7"/>
<circle cx="533.8" cy="447.8" r="2.4" fill="none" stroke="#009e73" stroke-width="1.7"/>
<circle cx="533.8" cy="450.5" r="2.4" fill="none" stroke="#009e73" stroke-width="1.7"/>
<circle cx="533.8" cy="453.3" r="2.4" fill="none" stroke="#009e73" stroke-width="1.7"/>
<circle cx="533.8" cy="461" r="2.4" fill="none" stroke="#009e73" stroke-width="1.7"/>
<circle cx="533.8" cy="464.7" r="2.4" fill="none" stroke="#009e73" stroke-width="1.7"/>
<circle cx="533.8" cy="470" r="2.4" fill="none" stroke="#009e73" stroke-width="1.7"/>
<circle cx="533.8" cy="472.5" r="2.4" fill="none" stroke="#009e73" stroke-width="1.7"/>
<circle cx="533.8" cy="482" r="2.4" fill="none" stroke="#009e73" stroke-width="1.7"/>
<circle cx="533.8" cy="485" r="2.4" fill="none" stroke="#009e73" stroke-width="1.7"/>
<circle cx="533.8" cy="488" r="2.4" fill="none" stroke="#009e73" stroke-width="1.7"/>
<circle cx="533.8" cy="491.5" r="2.4" fill="none" stroke="#009e73" stroke-width="1.7"/>
<circle cx="533.8" cy="495" r="2.4" fill="none" stroke="#009e73" stroke-width="1.7"/>
<circle cx="533.8" cy="510.2" r="2.4" fill="none" stroke="#009e73" stroke-width="1.7"/>
<circle cx="542.4" cy="420" r="2.4" fill="none" stroke="#f0e442" stroke-width="1.7"/>
<circle cx="542.4" cy="425.9" r="2.4" fill="none" stroke="#f0e442" stroke-width="1.7"/>
<circle cx="542.4" cy="443.2" r="2.4" fill="none" stroke="#f0e442" stroke-width="1.7"/>
<circle cx="542.4" cy="454.1" r="2.4" fill="none" stroke="#f0e442" stroke-width="1.7"/>
<circle cx="542.4" cy="459.2" r="2.4" fill="none" stroke="#f0e442" stroke-width="1.7"/>
<circle cx="542.4" cy="463.8" r="2.4" fill="none" stroke="#f0e442" stroke-width="1.7"/>
<circle cx="542.4" cy="467" r="2.4" fill="none" stroke="#f0e442" stroke-width="1.7"/>
<circle cx="542.4" cy="470" r="2.4" fill="none" stroke="#f0e442" stroke-width="1.7"/>
<circle cx="542.4" cy="473" r="2.4" fill="none" stroke="#f0e442" stroke-width="1.7"/>
<circle cx="542.4" cy="476" r="2.4" fill="none" stroke="#f0e442" stroke-width="1.7"/>
<circle cx="542.4" cy="479" r="2.4" fill="none" stroke="#f0e442" stroke-width="1.7"/>
<circle cx="542.4" cy="482" r="2.4" fill="none" stroke="#f0e442" stroke-width="1.7"/>
<circle cx="542.4" cy="485.5" r="2.4" fill="none" stroke="#f0e442" stroke-width="1.7"/>
<circle cx="542.4" cy="489.5" r="2.4" fill="none" stroke="#f0e442" stroke-width="1.7"/>
<circle cx="542.4" cy="499.9" r="2.4" fill="none" stroke="#f0e442" stroke-width="1.7"/>
<circle cx="542.4" cy="535.9" r="2.4" fill="none" stroke="#f0e442" stroke-width="1.7"/>
<circle cx="551.1" cy="455.5" r="2.4" fill="none" stroke="#e69f00" stroke-width="1.7"/>
<circle cx="551.1" cy="458.5" r="2.4" fill="none" stroke="#e69f00" stroke-width="1.7"/>
<circle cx="551.1" cy="461.5" r="2.4" fill="none" stroke="#e69f00" stroke-width="1.7"/>
<circle cx="551.1" cy="464.5" r="2.4" fill="none" stroke="#e69f00" stroke-width="1.7"/>
<circle cx="551.1" cy="467.5" r="2.4" fill="none" stroke="#e69f00" stroke-width="1.7"/>
<circle cx="551.1" cy="470.5" r="2.4" fill="none" stroke="#e69f00" stroke-width="1.7"/>
<circle cx="551.1" cy="474.8" r="2.4" fill="none" stroke="#e69f00" stroke-width="1.7"/>
<circle cx="551.1" cy="484.9" r="2.4" fill="none" stroke="#e69f00" stroke-width="1.7"/>
<circle cx="551.1" cy="488" r="2.4" fill="none" stroke="#e69f00" stroke-width="1.7"/>
<circle cx="551.1" cy="491" r="2.4" fill="none" stroke="#e69f00" stroke-width="1.7"/>
<circle cx="551.1" cy="494" r="2.4" fill="none" stroke="#e69f00" stroke-width="1.7"/>
<circle cx="551.1" cy="498.4" r="2.4" fill="none" stroke="#e69f00" stroke-width="1.7"/>
<circle cx="551.1" cy="503.9" r="2.4" fill="none" stroke="#e69f00" stroke-width="1.7"/>
<circle cx="551.1" cy="516.1" r="2.4" fill="none" stroke="#e69f00" stroke-width="1.7"/>
<circle cx="551.1" cy="521.3" r="2.4" fill="none" stroke="#e69f00" stroke-width="1.7"/>
<circle cx="583.8" cy="469.4" r="2.4" fill="none" stroke="#56b4e9" stroke-width="1.7"/>
<circle cx="583.8" cy="472" r="2.4" fill="none" stroke="#56b4e9" stroke-width="1.7"/>
<circle cx="583.8" cy="475" r="2.4" fill="none" stroke="#56b4e9" stroke-width="1.7"/>
<circle cx="583.8" cy="478" r="2.4" fill="none" stroke="#56b4e9" stroke-width="1.7"/>
<circle cx="583.8" cy="481" r="2.4" fill="none" stroke="#56b4e9" stroke-width="1.7"/>
<circle cx="583.8" cy="484" r="2.4" fill="none" stroke="#56b4e9" stroke-width="1.7"/>
<circle cx="583.8" cy="487" r="2.4" fill="none" stroke="#56b4e9" stroke-width="1.7"/>
<circle cx="583.8" cy="490" r="2.4" fill="none" stroke="#56b4e9" stroke-width="1.7"/>
<circle cx="583.8" cy="493" r="2.4" fill="none" stroke="#56b4e9" stroke-width="1.7"/>
<circle cx="583.8" cy="496" r="2.4" fill="none" stroke="#56b4e9" stroke-width="1.7"/>
<circle cx="583.8" cy="499" r="2.4" fill="none" stroke="#56b4e9" stroke-width="1.7"/>
<circle cx="583.8" cy="502" r="2.4" fill="none" stroke="#56b4e9" stroke-width="1.7"/>
<circle cx="583.8" cy="505" r="2.4" fill="none" stroke="#56b4e9" stroke-width="1.7"/>
<circle cx="583.8" cy="508.3" r="2.4" fill="none" stroke="#56b4e9" stroke-width="1.7"/>
<circle cx="592.5" cy="454.7" r="2.4" fill="none" stroke="#009e73" stroke-width="1.7"/>
<circle cx="592.5" cy="462.8" r="2.4" fill="none" stroke="#009e73" stroke-width="1.7"/>
<circle cx="592.5" cy="466.6" r="2.4" fill="none" stroke="#009e73" stroke-width="1.7"/>
<circle cx="592.5" cy="469.5" r="2.4" fill="none" stroke="#009e73" stroke-width="1.7"/>
<circle cx="592.5" cy="472.5" r="2.4" fill="none" stroke="#009e73" stroke-width="1.7"/>
<circle cx="592.5" cy="475.5" r="2.4" fill="none" stroke="#009e73" stroke-width="1.7"/>
<circle cx="592.5" cy="478.5" r="2.4" fill="none" stroke="#009e73" stroke-width="1.7"/>
<circle cx="592.5" cy="482.2" r="2.4" fill="none" stroke="#009e73" stroke-width="1.7"/>
<circle cx="592.5" cy="485" r="2.4" fill="none" stroke="#009e73" stroke-width="1.7"/>
<circle cx="592.5" cy="488" r="2.4" fill="none" stroke="#009e73" stroke-width="1.7"/>
<circle cx="592.5" cy="491" r="2.4" fill="none" stroke="#009e73" stroke-width="1.7"/>
<circle cx="592.5" cy="494" r="2.4" fill="none" stroke="#009e73" stroke-width="1.7"/>
<circle cx="592.5" cy="497" r="2.4" fill="none" stroke="#009e73" stroke-width="1.7"/>
<circle cx="592.5" cy="500" r="2.4" fill="none" stroke="#009e73" stroke-width="1.7"/>
<circle cx="592.5" cy="503" r="2.4" fill="none" stroke="#009e73" stroke-width="1.7"/>
<circle cx="592.5" cy="506" r="2.4" fill="none" stroke="#009e73" stroke-width="1.7"/>
<circle cx="592.5" cy="509" r="2.4" fill="none" stroke="#009e73" stroke-width="1.7"/>
<circle cx="592.5" cy="512.1" r="2.4" fill="none" stroke="#009e73" stroke-width="1.7"/>
<circle cx="601.2" cy="446.4" r="2.4" fill="none" stroke="#f0e442" stroke-width="1.7"/>
<circle cx="601.2" cy="450.1" r="2.4" fill="none" stroke="#f0e442" stroke-width="1.7"/>
<circle cx="601.2" cy="456.3" r="2.4" fill="none" stroke="#f0e442" stroke-width="1.7"/>
<circle cx="601.2" cy="460.2" r="2.4" fill="none" stroke="#f0e442" stroke-width="1.7"/>
<circle cx="601.2" cy="478.6" r="2.4" fill="none" stroke="#f0e442" stroke-width="1.7"/>
<circle cx="601.2" cy="481.5" r="2.4" fill="none" stroke="#f0e442" stroke-width="1.7"/>
<circle cx="601.2" cy="484.5" r="2.4" fill="none" stroke="#f0e442" stroke-width="1.7"/>
<circle cx="601.2" cy="487.5" r="2.4" fill="none" stroke="#f0e442" stroke-width="1.7"/>
<circle cx="601.2" cy="490.5" r="2.4" fill="none" stroke="#f0e442" stroke-width="1.7"/>
<circle cx="601.2" cy="493.5" r="2.4" fill="none" stroke="#f0e442" stroke-width="1.7"/>
<circle cx="601.2" cy="496.5" r="2.4" fill="none" stroke="#f0e442" stroke-width="1.7"/>
<circle cx="601.2" cy="498.5" r="2.4" fill="none" stroke="#f0e442" stroke-width="1.7"/>
<circle cx="601.2" cy="501.4" r="2.4" fill="none" stroke="#f0e442" stroke-width="1.7"/>
<circle cx="601.2" cy="537.9" r="2.4" fill="none" stroke="#f0e442" stroke-width="1.7"/>
<circle cx="609.9" cy="458.4" r="2.4" fill="none" stroke="#e69f00" stroke-width="1.7"/>
<circle cx="609.9" cy="461" r="2.4" fill="none" stroke="#e69f00" stroke-width="1.7"/>
<circle cx="609.9" cy="464" r="2.4" fill="none" stroke="#e69f00" stroke-width="1.7"/>
<circle cx="609.9" cy="467" r="2.4" fill="none" stroke="#e69f00" stroke-width="1.7"/>
<circle cx="609.9" cy="470.3" r="2.4" fill="none" stroke="#e69f00" stroke-width="1.7"/>
<circle cx="609.9" cy="480.4" r="2.4" fill="none" stroke="#e69f00" stroke-width="1.7"/>
<circle cx="609.9" cy="486.4" r="2.4" fill="none" stroke="#e69f00" stroke-width="1.7"/>
<circle cx="609.9" cy="504.5" r="2.4" fill="none" stroke="#e69f00" stroke-width="1.7"/>
<circle cx="609.9" cy="507.5" r="2.4" fill="none" stroke="#e69f00" stroke-width="1.7"/>
<circle cx="609.9" cy="510.6" r="2.4" fill="none" stroke="#e69f00" stroke-width="1.7"/>
<circle cx="609.9" cy="521.3" r="2.4" fill="none" stroke="#e69f00" stroke-width="1.7"/>
<circle cx="609.9" cy="528.7" r="2.4" fill="none" stroke="#e69f00" stroke-width="1.7"/>
<circle cx="609.9" cy="530.5" r="2.4" fill="none" stroke="#e69f00" stroke-width="1.7"/>
<circle cx="609.9" cy="536.3" r="2.4" fill="none" stroke="#e69f00" stroke-width="1.7"/>
<circle cx="609.9" cy="552" r="2.4" fill="none" stroke="#e69f00" stroke-width="1.7"/>
<circle cx="609.9" cy="556.5" r="2.4" fill="none" stroke="#e69f00" stroke-width="1.7"/>
<circle cx="609.9" cy="568" r="2.4" fill="none" stroke="#e69f00" stroke-width="1.7"/>
<circle cx="407.6" cy="486.8" r="2.8" fill="#000"/>
<circle cx="416.3" cy="481" r="2.8" fill="#000"/>
<circle cx="424.9" cy="486.5" r="2.8" fill="#000"/>
<circle cx="433.6" cy="479.2" r="2.8" fill="#000"/>
<circle cx="466.3" cy="486.1" r="2.8" fill="#000"/>
<circle cx="475" cy="489.1" r="2.8" fill="#000"/>
<circle cx="483.7" cy="486.3" r="2.8" fill="#000"/>
<circle cx="492.5" cy="478.3" r="2.8" fill="#000"/>
<circle cx="525.1" cy="465.6" r="2.8" fill="#000"/>
<circle cx="533.8" cy="474.3" r="2.8" fill="#000"/>
<circle cx="542.4" cy="474.6" r="2.8" fill="#000"/>
<circle cx="551.1" cy="481.5" r="2.8" fill="#000"/>
<circle cx="583.8" cy="485" r="2.8" fill="#000"/>
<circle cx="592.5" cy="487.6" r="2.8" fill="#000"/>
<circle cx="601.2" cy="485.3" r="2.8" fill="#000"/>
<circle cx="609.9" cy="494.8" r="2.8" fill="#000"/>
</svg>
</body></html>
